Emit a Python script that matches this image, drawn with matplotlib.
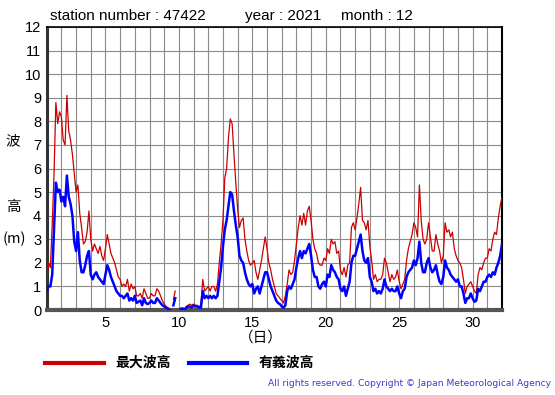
import numpy as np
import matplotlib
matplotlib.use("Agg")
import matplotlib.pyplot as plt
from matplotlib.lines import Line2D

nan = np.nan

# 3-hourly values, 8 per day, day 1 00h ... day 31 21h, plus day 32 00h
max_wave = [
    1.3, 2.0, 1.8, 3.6, 5.8, 8.8, 7.9, 8.4,
    8.2, 7.2, 7.0, 9.1, 7.6, 7.2, 6.6, 5.8,
    5.0, 5.3, 4.1, 3.5, 2.8, 2.9, 3.3, 4.2,
    3.0, 2.5, 2.8, 2.6, 2.4, 2.7, 2.3, 2.1,
    2.6, 3.2, 2.8, 2.4, 2.2, 2.0, 1.7, 1.4,
    1.3, 1.0, 1.1, 1.0, 1.3, 0.8, 1.1, 0.9,
    1.0, 0.6, 0.6, 0.7, 0.5, 0.9, 0.7, 0.5,
    0.5, 0.7, 0.6, 0.6, 0.9, 0.8, 0.6, 0.4,
    0.25, 0.15, 0.1, 0.05, nan, 0.45, 0.8, nan,
    nan, 0.05, 0.1, 0.05, 0.15, 0.2, 0.25, 0.2,
    0.25, 0.2, 0.2, 0.15, 0.2, 1.3, 0.8, 0.9,
    1.0, 0.8, 1.0, 1.0, 0.8, 1.1, 2.0, 2.8,
    3.8, 5.6, 6.0, 7.3, 8.1, 7.9, 6.6, 5.4,
    4.3, 3.5, 3.8, 3.9, 3.0, 2.5, 2.1, 1.9,
    2.0, 2.1, 1.6, 1.3, 1.7, 2.1, 2.6, 3.1,
    2.6, 2.0, 1.7, 1.3, 1.0, 0.7, 0.6, 0.5,
    0.4, 0.3, 0.6, 1.1, 1.7, 1.5, 1.6, 2.1,
    2.8, 3.5, 4.0, 3.6, 4.1, 3.6, 4.2, 4.4,
    3.8, 3.0, 2.6, 2.4, 2.0, 1.9, 1.9, 2.2,
    2.1, 2.6, 2.4, 3.0, 2.8, 2.9, 2.4, 2.5,
    1.7, 1.5, 1.8, 1.4, 1.9, 2.0, 3.5, 3.7,
    3.4, 3.9, 4.5, 5.2, 3.8, 3.7, 3.4, 3.8,
    2.7, 2.1, 1.3, 1.5, 1.2, 1.3, 1.3, 1.5,
    2.2, 2.0, 1.6, 1.2, 1.5, 1.3, 1.4, 1.7,
    1.2, 0.9, 1.1, 1.3, 2.1, 2.6, 2.9, 3.2,
    3.7, 3.5, 3.1, 5.3, 3.8, 3.0, 2.8, 3.0,
    3.7, 3.1, 2.5, 2.5, 3.2, 2.8, 2.5, 2.0,
    2.3, 3.7, 3.3, 3.4, 3.1, 3.3, 2.6, 2.3,
    2.1, 2.0, 1.8, 1.3, 0.7, 1.0, 1.1, 1.2,
    1.0, 0.8, 0.7, 1.5, 1.8, 1.7, 2.0, 2.2,
    2.2, 2.6, 2.5, 3.0, 3.3, 3.2, 3.9, 4.4,
    4.8,
]

sig_wave = [
    0.8, 1.0, 1.0, 1.5, 3.5, 5.4, 5.0, 5.1,
    4.6, 4.8, 4.4, 5.7, 4.8, 4.5, 4.0, 2.9,
    2.5, 3.3, 2.1, 1.6, 1.6, 1.9, 2.3, 2.5,
    1.5, 1.3, 1.5, 1.6, 1.4, 1.3, 1.2, 1.1,
    1.5, 1.9, 1.7, 1.4, 1.2, 1.0, 0.8, 0.7,
    0.6, 0.6, 0.5, 0.6, 0.7, 0.4, 0.5, 0.4,
    0.6, 0.3, 0.35, 0.4, 0.2, 0.5, 0.3, 0.25,
    0.3, 0.4, 0.3, 0.3, 0.5, 0.4, 0.3, 0.2,
    0.15, 0.1, 0.05, 0.0, nan, 0.2, 0.5, nan,
    nan, 0.05, 0.05, 0.0, 0.1, 0.15, 0.15, 0.1,
    0.2, 0.15, 0.15, 0.1, 0.1, 0.8, 0.5, 0.6,
    0.5, 0.6, 0.5, 0.6, 0.5, 0.6, 1.2, 1.8,
    2.7, 3.4, 3.8, 4.4, 5.0, 4.9, 4.2, 3.6,
    3.1, 2.3, 2.1, 2.0, 1.6, 1.3, 1.1, 1.0,
    1.1, 0.7, 0.9, 1.0, 0.7, 1.0, 1.3, 1.6,
    1.6, 1.3, 1.0, 0.8, 0.6, 0.4, 0.3, 0.25,
    0.15, 0.1, 0.2, 0.8, 1.0, 0.9, 1.1, 1.3,
    1.8, 2.2, 2.5, 2.2, 2.5, 2.4, 2.6, 2.8,
    2.3, 1.7, 1.4, 1.4, 1.0, 0.9, 1.1, 1.2,
    1.0, 1.5, 1.4, 1.9, 1.7, 1.6, 1.4, 1.3,
    0.9, 0.8, 1.0, 0.6, 0.9, 1.2, 2.0, 2.3,
    2.3, 2.6, 2.9, 3.2, 2.5, 2.1, 2.0, 2.2,
    1.4, 1.2, 0.8, 0.9, 0.7, 0.8, 0.7, 0.9,
    1.3, 1.0, 0.9, 0.8, 0.9, 0.8, 0.8, 1.0,
    0.7, 0.5, 0.8, 0.9, 1.4, 1.6, 1.7, 1.8,
    2.1, 1.9, 2.2, 2.9, 2.0, 1.6, 1.6, 2.0,
    2.2, 1.8, 1.6, 1.7, 1.9, 1.5, 1.2, 1.1,
    1.4, 2.1, 1.8, 1.7, 1.5, 1.4, 1.3, 1.2,
    1.3, 1.0, 1.0, 0.7, 0.3, 0.5, 0.5, 0.7,
    0.5, 0.35, 0.4, 0.9, 0.8, 1.0, 1.2, 1.2,
    1.4, 1.5, 1.4, 1.6, 1.5, 1.8, 2.0, 2.3,
    2.8,
]

x_ticks = [5, 10, 15, 20, 25, 30]
y_ticks = list(range(0, 13))
title_parts = ["station number : 47422", "year : 2021", "month : 12"]
legend_labels = ["最大波高", "有義波高"]

days = 1 + np.arange(len(max_wave)) / 8.0

W, H = 555, 395
fig = plt.figure(figsize=(W / 100, H / 100), dpi=100)
fig.patch.set_facecolor("white")

L, R, B, T = 46.7, 502.0, 310.0, 27.0
ax = fig.add_axes([L / W, 1 - B / H, (R - L) / W, (B - T) / H])

ax.plot(days, max_wave, color="#cc0000", lw=0.9, zorder=3)
ax.plot(days, sig_wave, color="#0000ff", lw=1.8, zorder=4)

ax.set_xlim(1, 32)
ax.set_ylim(0, 12)
ax.set_xticks(range(1, 33))
ax.set_xticklabels([str(d) if d in x_ticks else "" for d in range(1, 33)])
ax.set_yticks(y_ticks)
ax.set_yticklabels([str(v) for v in y_ticks])
ax.grid(True, color="#8a8a8a", lw=0.8)
ax.set_axisbelow(True)
ax.tick_params(length=0, labelsize=10.5, pad=4)
for lab in ax.get_xticklabels() + ax.get_yticklabels():
    lab.set_fontfamily("Liberation Sans")

ax.spines["left"].set_linewidth(2.2)
ax.spines["left"].set_color("#333333")
ax.spines["bottom"].set_linewidth(3)
ax.spines["bottom"].set_color("#555555")
ax.spines["top"].set_linewidth(1.2)
ax.spines["right"].set_linewidth(1.5)
ax.spines["top"].set_color("black")
ax.spines["right"].set_color("black")

cjk = ["Noto Sans CJK JP", "DejaVu Sans"]

# title
for txt, xp in zip(title_parts, [50, 245, 341]):
    fig.text(xp / W, 1 - 16 / H, txt, ha="left", va="center",
             fontsize=11, family="Liberation Sans")

# y label
fig.text(13 / W, 1 - 141 / H, "波", ha="center", va="center", fontsize=10.5, family=cjk)
fig.text(13 / W, 1 - 207 / H, "高", ha="center", va="center", fontsize=10.5, family=cjk)
fig.text(14 / W, 1 - 239 / H, "(m)", ha="center", va="center", fontsize=10.5, family=cjk)

# x label
fig.text(261 / W, 1 - 338 / H, "（日）", ha="center", va="center", fontsize=10.5, family=cjk)

# legend
fig.add_artist(Line2D([45 / W, 104 / W], [1 - 363 / H] * 2, color="#cc0000", lw=3))
fig.text(115 / W, 1 - 363 / H, legend_labels[0], ha="left", va="center",
         fontsize=10, fontweight="bold", family=cjk)
fig.add_artist(Line2D([189 / W, 247 / W], [1 - 363 / H] * 2, color="#0000ff", lw=3))
fig.text(259 / W, 1 - 363 / H, legend_labels[1], ha="left", va="center",
         fontsize=10, fontweight="bold", family=cjk)

fig.text(551 / W, 1 - 384 / H,
         "All rights reserved. Copyright © Japan Meteorological Agency",
         ha="right", va="center", fontsize=6.6, color="#3a3ad0", family="DejaVu Sans")

fig.savefig("out.png", dpi=100)
